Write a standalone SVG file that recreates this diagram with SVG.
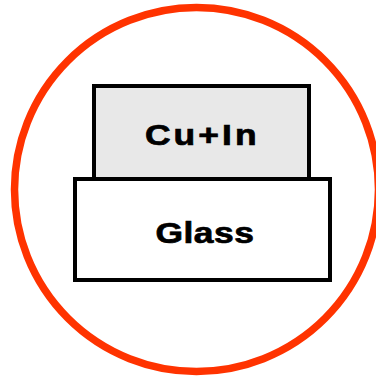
<svg xmlns="http://www.w3.org/2000/svg" width="376" height="378" viewBox="0 0 376 378">
<style>
.lbl{font-family:"Liberation Sans",Arial,sans-serif;font-weight:bold;font-size:29.5px;fill:#000;stroke:#000;stroke-width:0.7}
.box{stroke:#000;stroke-width:4}
</style>
<rect width="376" height="378" fill="#fff"/>
<circle cx="196.5" cy="189.5" r="182" fill="none" stroke="#ff3300" stroke-width="7.5"/>
<g id="cuin">
<rect class="box" x="94" y="86" width="215" height="93" fill="#e8e8e8"/>
<text class="lbl" transform="translate(145,145) scale(1.2,1)" x="0" y="0" textLength="93" lengthAdjust="spacing">Cu+In</text>
</g>
<g id="glass">
<rect class="box" x="75" y="179" width="255" height="101" fill="#fff"/>
<text class="lbl" transform="translate(155.5,243.3) scale(1.2,1)" x="0" y="0" textLength="82" lengthAdjust="spacing">Glass</text>
</g>
<g id="connectors"/>
</svg>
